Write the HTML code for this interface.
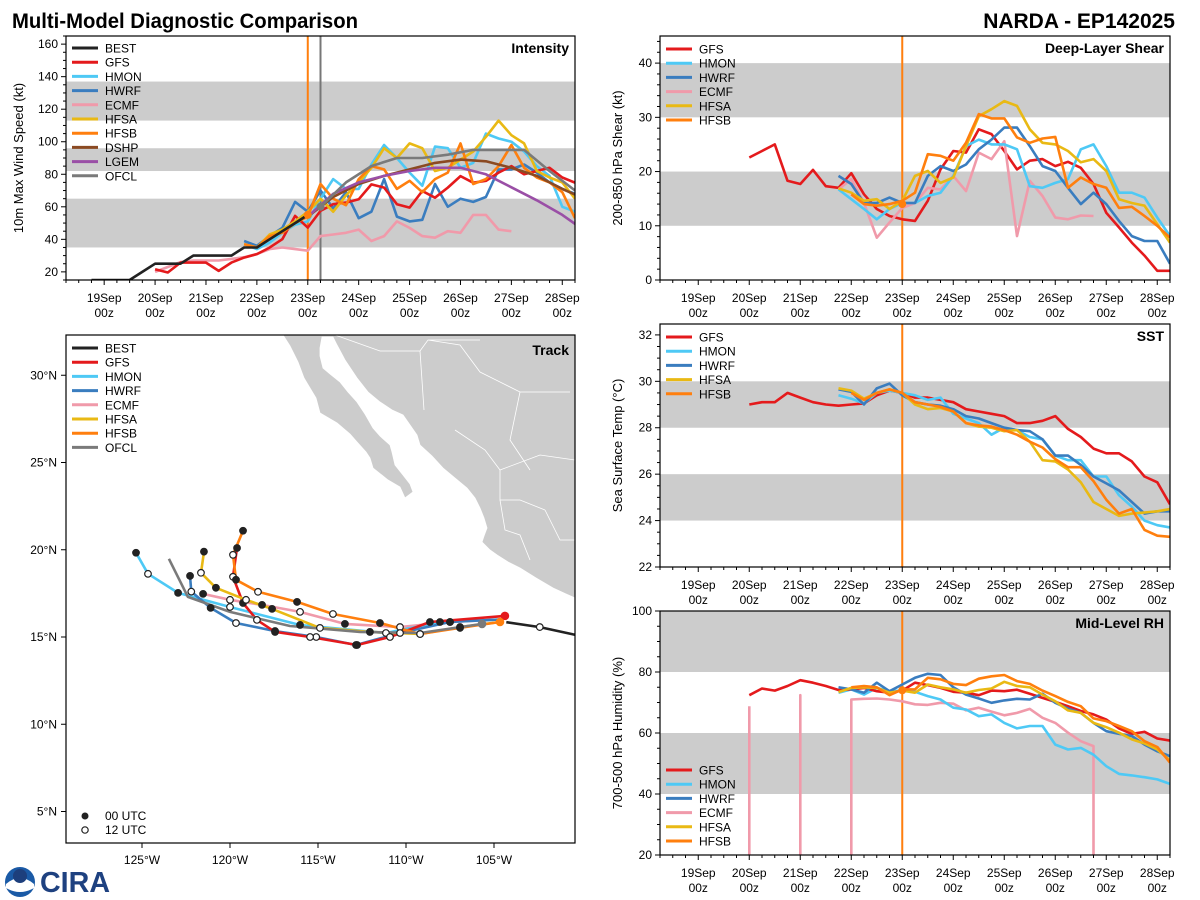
<!DOCTYPE html>
<html><head><meta charset="utf-8"><title>NARDA Multi-Model Diagnostic Comparison</title>
<style>
html,body{margin:0;padding:0;background:#fff;width:1200px;height:900px;overflow:hidden;}
svg{display:block;font-family:"Liberation Sans","DejaVu Sans",sans-serif;}
</style></head>
<body>
<svg id="chart" width="1200" height="900" viewBox="0 0 1200 900" xmlns="http://www.w3.org/2000/svg">
<text x="12" y="28" font-size="21" font-weight="bold" textLength="346" lengthAdjust="spacingAndGlyphs">Multi-Model Diagnostic Comparison</text>
<text x="1175" y="28" font-size="21" font-weight="bold" text-anchor="end">NARDA - EP142025</text>
<g>
<circle cx="20" cy="882" r="15" fill="#1a5aa6"/>
<path d="M6,884 Q20,872 34,884 L34,888 Q20,896 6,888 Z" fill="#fff"/>
<circle cx="20" cy="876" r="7" fill="#1d3f7c"/>
<text x="40" y="892" font-size="29" font-weight="bold" fill="#1e4180" textLength="70" lengthAdjust="spacingAndGlyphs">CIRA</text>
</g>
</svg>
<script>
// ---------------- DATA ----------------
const intBestStart=-0.25;
const intBest=[15,15,15,15,20,25,25,25,30,30,30,30,35,35,40,45,50,55];
const intGfsStart=1.0;
const intGfs=[21.6,19.6,25.7,25.7,25.7,20.6,25.7,28.8,30.9,34.9,40.1,54.4,47.2,57.5,61.6,62.6,64.6,73.8,71.8,61.6,59.5,69.7,65.6,71.8,78.9,74.8,75.9,81,85,80,82,84,78,74.8];
const intHmonStart=2.75;
const intHmon=[37,34,38,44,49,51,65,77,71,71,86,98,90,81,73,97,96,84,87,105,102,100,94,85,79,60,57];
const intHwrfStart=2.75;
const intHwrf=[39,36,42,47,63,57,70,59,69,53,57,77,54,51,52,74,60,65,63,66,83,83,86,81,75,71,68];
const intEcmfStart=1.0;
const intEcmf=[20,23,26,27,27,27,28,29,31,34,35,34,33,42,43,44,46,39,42,51,47,42,41,45,44,55,55,46,45];
const intHfsaStart=2.75;
const intHfsa=[37,35,43,46,51,57,65,57,67,75,84,96,90,99,96,82,84,89,94,103,113,104,99,82,78,75,65];
const intHfsbStart=2.75;
const intHfsb=[37,35,42,44,50,54,74,65,61,77,85,83,71,76,69,77,81,99,74,77,85,98,84,78,75,69,53];
const intDshpStart=4.0;
const intDshp=[54,66,74,79,83,87,89,88,84,79,71,64];
const intLgemStart=4.0;
const intLgem=[54,68,75,79,82,84,84,80,72,64,55,44];
const intOfclStart=4.25;
const intOfcl=[60,75,85,90,90,92,95,95,95,82,70];
const intBands=[[35,65],[82,96],[113,137]];

const shrGfsStart=1.0;
const shrGfs=[22.6,23.8,25.0,18.3,17.7,20.3,17.3,17.0,19.7,15.8,13.1,11.8,11.2,10.9,14.6,20.4,23.8,23.5,27.8,26.9,23.8,20.4,22.0,22.3,21.0,21.8,20.7,17.7,12.4,9.7,6.9,4.5,1.7,1.7];
const shrHmonStart=2.75;
const shrHmon=[16.7,14.9,13.1,11.2,13.1,14.2,14.2,15.5,16.1,19.2,24.7,25.9,25.0,25.0,24.1,17.3,17.0,17.9,18.6,24.1,25.0,21.0,16.1,16.1,15.2,11.5,8.1];
const shrHwrfStart=2.75;
const shrHwrf=[19.2,17.7,14.2,14.2,15.2,14.2,14.2,19.2,21.0,20.1,21.3,24.1,25.9,28.1,28.1,24.7,21.0,20.1,17.0,14.0,16.1,14.0,10.9,8.1,7.2,7.2,3.0];
const shrEcmfStart=2.75;
const shrEcmf=[16.7,18.6,14.2,7.8,10.6,13.3,14.2,17.0,16.7,19.2,16.4,23.5,22.3,25.6,8.1,18.3,15.5,11.5,11.2,11.9,11.8];
const shrHfsaStart=2.75;
const shrHfsa=[16.9,16.1,14.6,14.9,13.1,14.6,19.2,20.1,17.9,18.9,24.7,30.2,31.5,33.0,32.1,27.8,25.3,25.0,23.8,21.7,22.3,20.1,14.9,14.2,13.7,10.3,6.9];
const shrHfsbStart=3.0;
const shrHfsb=[15.8,14.0,13.7,14.0,14.6,16.1,23.2,22.9,22.0,25.3,30.6,29.8,29.8,26.3,25.3,26.1,26.4,17.0,18.9,17.7,17.0,13.3,13.5,11.8,10.0,7.8];
const shrBands=[[10,20],[30,40]];

const sstGfsStart=1.0;
const sstGfs=[29.0,29.1,29.1,29.5,29.3,29.1,29.0,28.95,29.0,29.05,29.4,29.6,29.5,29.3,29.3,29.2,29.1,28.8,28.7,28.6,28.5,28.2,28.2,28.3,28.5,27.95,27.6,27.1,26.9,26.9,26.55,25.9,25.65,24.7];
const sstHmonStart=2.75;
const sstHmon=[29.4,29.25,29.05,29.5,29.6,29.5,29.4,29.2,29.3,28.6,28.4,28.2,27.7,28.0,27.9,27.6,27.5,26.8,26.6,26.6,25.9,25.9,25.1,24.6,24.0,23.8,23.7];
const sstHwrfStart=2.75;
const sstHwrf=[29.65,29.55,29.0,29.7,29.9,29.4,29.1,29.0,28.95,28.8,28.5,28.4,28.2,28.0,27.9,27.85,27.5,26.8,26.8,26.4,25.9,25.6,25.3,24.8,24.3,24.4,24.4];
const sstHfsaStart=2.75;
const sstHfsa=[29.7,29.6,29.25,29.5,29.65,29.5,29.0,28.8,28.85,28.7,28.2,28.05,28.0,27.85,27.9,27.4,26.6,26.55,26.2,25.65,24.8,24.5,24.2,24.3,24.35,24.4,24.5];
const sstHfsbStart=3.0;
const sstHfsb=[29.5,29.2,29.5,29.65,29.5,29.1,29.0,28.9,28.7,28.2,28.1,28.05,27.9,27.7,27.4,27.15,26.65,26.3,26.3,25.7,24.9,24.3,24.5,23.6,23.35,23.3];
const sstBands=[[24,26],[28,30]];

const rhGfsStart=1.0;
const rhGfs=[72.4,74.6,73.9,75.4,77.3,76.5,75.4,74.1,74.3,74.8,73.7,73.2,73.9,76.5,75.7,74.8,73.5,73.2,72.4,73.9,73.7,74.2,72.9,71.5,70.2,68.8,67.2,66.1,64.4,61.5,59.7,60.4,58.2,57.5];
const rhHmonStart=2.75;
const rhHmon=[73.2,74.3,72.6,74.8,73.7,73.9,73.5,72.1,71.0,68.3,67.7,65.5,66.1,63.3,61.5,62.3,62.3,56.2,54.6,55.1,52.9,49.1,46.6,46.1,45.5,44.8,43.3];
const rhHwrfStart=2.75;
const rhHwrf=[75.0,74.3,73.2,76.5,73.7,75.9,78.1,79.4,79.0,75.0,72.6,71.3,69.9,70.7,71.2,71.0,72.9,69.9,68.0,66.6,63.3,60.6,59.7,59.0,56.2,54.0,52.4];
const rhEcmfStart=1.0;
const rhEcmf=[68.8,-999,-999,-999,72.4,-999,-999,-999,71.0,71.2,71.3,71.0,70.4,69.4,69.2,69.9,69.6,67.4,68.3,67.0,65.8,66.6,67.9,65.0,63.3,60.1,57.3,55.7,-999];
const rhHfsaStart=2.75;
const rhHfsa=[73.4,74.8,75.0,74.8,73.2,73.9,73.2,75.9,75.0,74.3,73.2,74.1,74.6,76.8,75.4,75.0,72.6,70.4,67.4,66.6,63.3,61.9,60.1,57.9,56.6,54.6,51.0];
const rhHfsbStart=3.0;
const rhHfsb=[75.0,75.4,75.0,72.4,74.3,74.3,78.1,77.6,76.1,75.7,77.8,78.6,79.0,77.0,76.1,73.9,72.1,70.2,68.8,64.8,63.9,62.3,60.6,57.3,55.4,50.3];
const rhBands=[[40,60],[80,100]];

const trkBestLon=[-98.7,-100.5,-102.4,-104.3];
const trkBestLat=[14.8,15.15,15.57,15.85];
const trkGfsLon=[-104.38,-108.64,-110.91,-112.78,-115.45,-117.44,-118.47,-119.26,-119.83,-119.6];
const trkGfsLat=[16.21,15.86,15.0,14.54,15.0,15.29,15.98,16.95,18.45,20.1];
const trkHmonLon=[-104.66,-108.07,-111.14,-116.02,-120.0,-122.95,-124.66,-125.34];
const trkHmonLat=[16.0,15.86,15.23,15.69,16.72,17.53,18.62,19.83];
const trkHwrfLon=[-104.66,-107.5,-110.34,-112.84,-115.1,-117.44,-119.66,-121.1,-122.2,-122.27];
const trkHwrfLat=[16.0,15.86,15.23,14.54,15.0,15.34,15.8,16.67,17.6,18.5];
const trkEcmfLon=[-104.66,-107.5,-110.34,-113.47,-116.02,-118.18,-120.0,-121.53];
const trkEcmfLat=[16.0,15.86,15.57,15.75,16.44,16.84,17.13,17.47];
const trkHfsaLon=[-104.66,-106.93,-109.2,-112.05,-114.89,-117.61,-119.09,-120.8,-121.65,-121.48];
const trkHfsaLat=[15.86,15.57,15.17,15.29,15.52,16.61,17.13,17.82,18.68,19.89];
const trkHfsbLon=[-104.66,-106.93,-109.2,-111.48,-114.15,-116.19,-118.41,-119.66,-119.83,-119.26];
const trkHfsbLat=[15.86,15.52,15.17,15.8,16.32,17.01,17.59,18.28,19.71,21.09];
const trkOfclLon=[-105.68,-109.2,-112.61,-116.59,-120.0,-122.39,-123.47];
const trkOfclLat=[15.75,15.23,15.29,15.63,16.44,17.3,19.48];

const dayLabels=['19Sep','20Sep','21Sep','22Sep','23Sep','24Sep','25Sep','26Sep','27Sep','28Sep'];
const latTicks=[5,10,15,20,25,30];
const lonTicks=[-125,-120,-115,-110,-105];

const C={BEST:'#222222',GFS:'#e41a1c',HMON:'#4ec9f5',HWRF:'#3a7dbf',ECMF:'#f09aaa',HFSA:'#e9b914',HFSB:'#ff7f0e',DSHP:'#8b4a22',LGEM:'#9a4fa6',OFCL:'#7a7a7a'};

// ---------------- DRAW ----------------
const NS='http://www.w3.org/2000/svg';
const svg=document.getElementById('chart');
function el(tag,attrs,parent){const e=document.createElementNS(NS,tag);for(const k in attrs)e.setAttribute(k,attrs[k]);(parent||svg).appendChild(e);return e;}
let clipId=0;

function makePanel(cfg){
  const g=el('g',{});
  
  
  const W=cfg.x1-cfg.x0, H=cfg.y1-cfg.y0;
  const sx=t=>cfg.x0+(t+0.75)/10*W;
  const sy=v=>cfg.y1-(v-cfg.ymin)/(cfg.ymax-cfg.ymin)*H;
  const id='clip'+(clipId++);
  const cp=el('clipPath',{id:id},g);
  el('rect',{x:cfg.x0,y:cfg.y0,width:W,height:H},cp);
  const inner=el('g',{'clip-path':'url(#'+id+')'},g);
  cfg.bands.forEach(b=>{
    const r=el('rect',{x:cfg.x0,y:sy(b[1]),width:W,height:sy(b[0])-sy(b[1]),fill:'#cccccc'},inner);
    
    
  });
  const vl=el('line',{x1:sx(4),x2:sx(4),y1:cfg.y0,y2:cfg.y1,stroke:'#ff7f0e','stroke-width':2},inner);
  
  
  if(cfg.ofclLine){
    const gl=el('line',{x1:sx(4.25),x2:sx(4.25),y1:cfg.y0,y2:cfg.y1,stroke:'#777','stroke-width':2},inner);
    
    
  }
  cfg.series.forEach(s=>{
    const step=s.step||0.25;
    const bottom=cfg.y1+3;
    let d='', penDown=false, prevX=null;
    s.vals.forEach((v,i)=>{
      const x=sx(s.start+i*step);
      if(v<cfg.ymin-50){
        if(penDown){ d+=' L'+prevX.toFixed(1)+','+bottom; }
        penDown=false;
      } else {
        const y=sy(v);
        if(!penDown){
          if(i>0) d+=' M'+x.toFixed(1)+','+bottom+' L'+x.toFixed(1)+','+y.toFixed(1);
          else d+=' M'+x.toFixed(1)+','+y.toFixed(1);
        } else d+=' L'+x.toFixed(1)+','+y.toFixed(1);
        penDown=true;
      }
      prevX=x;
    });
    const p=el('path',{d:d.trim(),fill:'none',stroke:C[s.key],'stroke-width':2.6,'stroke-linejoin':'round'},inner);
    
    
  });
  (cfg.dots||[]).forEach(d=>{
    const c=el('circle',{cx:sx(d.t),cy:sy(d.v),r:4,fill:d.color},inner);
    
    
  });
  const fr=el('rect',{x:cfg.x0,y:cfg.y0,width:W,height:H,fill:'none',stroke:'#000','stroke-width':1.2},g);
  
  
  for(let i=0;i<=40;i++){
    const t=-0.75+i*0.25; const x=sx(t);
    const major=Math.abs(t-Math.round(t))<1e-6;
    el('line',{x1:x,x2:x,y1:cfg.y1,y2:cfg.y1+(major?5:3),stroke:'#000','stroke-width':1},g);
  }
  dayLabels.forEach((d,i)=>{
    const tx=el('text',{x:sx(i),y:cfg.y1+22,'font-size':12,'text-anchor':'middle'},g);
    tx.textContent=d;
    
    
    const tz=el('text',{x:sx(i),y:cfg.y1+37,'font-size':12,'text-anchor':'middle'},g);
    tz.textContent='00z';
    
    
  });
  for(let v=cfg.yMinorStart;v<=cfg.ymax+1e-6;v+=cfg.yMinor){
    const y=sy(v);
    if(y<cfg.y0-0.5) continue;
    const isMaj=cfg.yMajor.some(m=>Math.abs(m-v)<1e-6);
    el('line',{x1:cfg.x0,x2:cfg.x0-(isMaj?5:3),y1:y,y2:y,stroke:'#000','stroke-width':1},g);
  }
  cfg.yMajor.forEach(v=>{
    const tx=el('text',{x:cfg.x0-8,y:sy(v)+4,'font-size':12,'text-anchor':'end'},g);
    tx.textContent=String(v);
    
    
  });
  const yt=el('text',{x:0,y:0,'font-size':13,'text-anchor':'middle',transform:'translate('+cfg.ylabelX+','+((cfg.y0+cfg.y1)/2)+') rotate(-90)'},g);
  yt.textContent=cfg.ylabel;
  
  
  const ti=el('text',{x:cfg.x1-6,y:cfg.y0+17,'font-size':14,'font-weight':'bold','text-anchor':'end'},g);
  ti.textContent=cfg.title;
  
  
  drawLegend(g,cfg.legendKeys,cfg.x0+6,cfg.legendY);
  return g;
}

function drawLegend(g,keys,x,y0){
  const lg=el('g',{},g);
  
  
  keys.forEach((k,i)=>{
    const y=y0+i*14.2;
    const ln=el('line',{x1:x,x2:x+26,y1:y,y2:y,stroke:C[k],'stroke-width':3},lg);
    
    
    const t=el('text',{x:x+33,y:y+4.5,'font-size':12},lg);
    t.textContent=k;
    
    
  });
}

makePanel({name:'intensity-panel',x0:66,x1:575,y0:36,y1:280,ymin:15,ymax:165,bands:intBands,
  yMajor:[20,40,60,80,100,120,140,160],yMinor:5,yMinorStart:15,ylabel:'10m Max Wind Speed (kt)',ylabelX:23,
  title:'Intensity',ofclLine:true,legendY:48,
  legendKeys:['BEST','GFS','HMON','HWRF','ECMF','HFSA','HFSB','DSHP','LGEM','OFCL'],
  series:[{key:'ECMF',start:intEcmfStart,vals:intEcmf},{key:'HWRF',start:intHwrfStart,vals:intHwrf},
    {key:'HMON',start:intHmonStart,vals:intHmon},{key:'GFS',start:intGfsStart,vals:intGfs},
    {key:'HFSA',start:intHfsaStart,vals:intHfsa},{key:'HFSB',start:intHfsbStart,vals:intHfsb},
    {key:'DSHP',start:intDshpStart,vals:intDshp,step:0.5},{key:'LGEM',start:intLgemStart,vals:intLgem,step:0.5},
    {key:'OFCL',start:intOfclStart,vals:intOfcl,step:0.5},{key:'BEST',start:intBestStart,vals:intBest}],
  dots:[{t:4,v:intBest[intBest.length-1],color:'#ff7f0e'},{t:intOfclStart,v:intOfcl[0],color:'#7a7a7a'}]});

makePanel({name:'shear-panel',x0:660,x1:1170,y0:36,y1:280,ymin:0,ymax:45,bands:shrBands,
  yMajor:[0,10,20,30,40],yMinor:2,yMinorStart:0,ylabel:'200-850 hPa Shear (kt)',ylabelX:622,
  title:'Deep-Layer Shear',legendY:49,legendKeys:['GFS','HMON','HWRF','ECMF','HFSA','HFSB'],
  series:[{key:'GFS',start:shrGfsStart,vals:shrGfs},{key:'ECMF',start:shrEcmfStart,vals:shrEcmf},
    {key:'HMON',start:shrHmonStart,vals:shrHmon},{key:'HWRF',start:shrHwrfStart,vals:shrHwrf},
    {key:'HFSA',start:shrHfsaStart,vals:shrHfsa},{key:'HFSB',start:shrHfsbStart,vals:shrHfsb}],
  dots:[{t:4,v:14,color:'#ff7f0e'}]});

makePanel({name:'sst-panel',x0:660,x1:1170,y0:324,y1:567,ymin:22,ymax:32.47,bands:sstBands,
  yMajor:[22,24,26,28,30,32],yMinor:0.5,yMinorStart:22,ylabel:'Sea Surface Temp (°C)',ylabelX:622,
  title:'SST',legendY:337,legendKeys:['GFS','HMON','HWRF','HFSA','HFSB'],
  series:[{key:'GFS',start:sstGfsStart,vals:sstGfs},{key:'HMON',start:sstHmonStart,vals:sstHmon},
    {key:'HWRF',start:sstHwrfStart,vals:sstHwrf},{key:'HFSA',start:sstHfsaStart,vals:sstHfsa},
    {key:'HFSB',start:sstHfsbStart,vals:sstHfsb}]});

makePanel({name:'rh-panel',x0:660,x1:1170,y0:611,y1:855,ymin:20,ymax:100,bands:rhBands,
  yMajor:[20,40,60,80,100],yMinor:5,yMinorStart:20,ylabel:'700-500 hPa Humidity (%)',ylabelX:622,
  title:'Mid-Level RH',legendY:770,legendKeys:['GFS','HMON','HWRF','ECMF','HFSA','HFSB'],
  series:[{key:'ECMF',start:rhEcmfStart,vals:rhEcmf},{key:'HMON',start:rhHmonStart,vals:rhHmon},
    {key:'GFS',start:rhGfsStart,vals:rhGfs},{key:'HWRF',start:rhHwrfStart,vals:rhHwrf},
    {key:'HFSA',start:rhHfsaStart,vals:rhHfsa},{key:'HFSB',start:rhHfsbStart,vals:rhHfsb}],
  dots:[{t:4,v:74,color:'#ff7f0e'}]});

// ---------------- TRACK MAP ----------------
(function(){
  const x0=66,x1=575,y0=335,y1=843;
  const px=lon=>142+(lon+125)*17.6;
  const py=lat=>637-(lat-15)*17.45;
  const g=el('g',{});
  
  
  const cp=el('clipPath',{id:'trkclip'},g);
  el('rect',{x:x0,y:y0,width:x1-x0,height:y1-y0},cp);
  const inner=el('g',{'clip-path':'url(#trkclip)'},g);
  const land=el('path',{d:'M283,335 L290,346 L298,362 L304,378 L316,398 L320,413 L337,423 L350,434 L357,442 L366,452 L370,458 L373,468 L388,480 L400,487 L405,498 L413,492 L410,484 L403,475 L395,465 L392,452 L390,445 L380,436 L373,428 L365,414 L357,402 L348,392 L340,382 L330,374 L323,368 L320,356 L320,348 L322,337 L333,337 L337,345 L345,360 L357,378 L368,392 L380,402 L392,410 L403,415 L410,425 L417,435 L420,445 L432,456 L443,468 L455,478 L467,488 L475,498 L480,508 L484,518 L487,528 L484,536 L482,542 L490,550 L497,555 L508,562 L520,568 L536,578 L553,588 L566,594 L575,598 L575,335 Z',fill:'#cccccc',stroke:'#fff','stroke-width':0.8},inner);
  
  
  const borders=el('path',{d:'M335,335 L380,351 L420,351 L428,340 L480,340 M420,351 L424,410 M428,340 L460,345 L480,372 L520,392 L570,392 M520,392 L510,440 L530,470 M455,430 L485,450 L500,470 L500,500 L520,500 L545,510 M500,470 L540,455 L575,460 M545,510 L560,540 L575,540 M500,500 L505,530 L520,535 L530,560',fill:'none',stroke:'#fff','stroke-width':0.8},inner);
  
  

  const tracks=[['BEST',trkBestLon,trkBestLat],['ECMF',trkEcmfLon,trkEcmfLat],['HMON',trkHmonLon,trkHmonLat],
    ['HWRF',trkHwrfLon,trkHwrfLat],['GFS',trkGfsLon,trkGfsLat],['HFSA',trkHfsaLon,trkHfsaLat],
    ['HFSB',trkHfsbLon,trkHfsbLat],['OFCL',trkOfclLon,trkOfclLat]];
  tracks.forEach(([k,lo,la])=>{
    const pts=lo.map((v,i)=>px(v).toFixed(1)+','+py(la[i]).toFixed(1)).join(' ');
    const p=el('polyline',{points:pts,fill:'none',stroke:C[k],'stroke-width':2.6,'stroke-linejoin':'round'},inner);
    
    
  });
  tracks.forEach(([k,lo,la])=>{
    if(k==='OFCL') return;
    lo.forEach((v,i)=>{
      if(k==='BEST'){ if(i!==2) return; }
      else if(i===0) return;
      const filled=(k==='BEST')?false:(i%2===1);
      const m=el('circle',{cx:px(v),cy:py(la[i]),r:3.3,fill:filled?'#222':'#fff',stroke:'#222','stroke-width':1.2},inner);
      
      
    });
  });
  [['GFS',trkGfsLon,trkGfsLat],['OFCL',trkOfclLon,trkOfclLat],['HFSB',trkHfsbLon,trkHfsbLat]].forEach(([k,lo,la])=>{
    const c=el('circle',{cx:px(lo[0]),cy:py(la[0]),r:4.3,fill:C[k]},inner);
    
    
  });
  const fr=el('rect',{x:x0,y:y0,width:x1-x0,height:y1-y0,fill:'none',stroke:'#000','stroke-width':1.2},g);
  
  
  latTicks.forEach(v=>{
    el('line',{x1:x0,x2:x0-5,y1:py(v),y2:py(v),stroke:'#000'},g);
    const t=el('text',{x:x0-9,y:py(v)+4,'font-size':12,'text-anchor':'end'},g);
    t.textContent=v+'°N';
    
    
  });
  lonTicks.forEach(v=>{
    el('line',{x1:px(v),x2:px(v),y1:y1,y2:y1+5,stroke:'#000'},g);
    const t=el('text',{x:px(v),y:y1+21,'font-size':12,'text-anchor':'middle'},g);
    t.textContent=Math.abs(v)+'°W';
    
    
  });
  const ti=el('text',{x:x1-6,y:y0+20,'font-size':14,'font-weight':'bold','text-anchor':'end'},g);
  ti.textContent='Track';
  
  
  drawLegend(g,['BEST','GFS','HMON','HWRF','ECMF','HFSA','HFSB','OFCL'],x0+6,348);
  const m1=el('circle',{cx:85,cy:816,r:3.5,fill:'#222'},g);
  
  
  const t1=el('text',{x:105,y:820,'font-size':12},g);
  t1.textContent='00 UTC';
  
  
  const m2=el('circle',{cx:85,cy:830,r:3.2,fill:'#fff',stroke:'#222','stroke-width':1.2},g);
  
  
  const t2=el('text',{x:105,y:834,'font-size':12},g);
  t2.textContent='12 UTC';
  
  
})();
</script>
</body></html>
